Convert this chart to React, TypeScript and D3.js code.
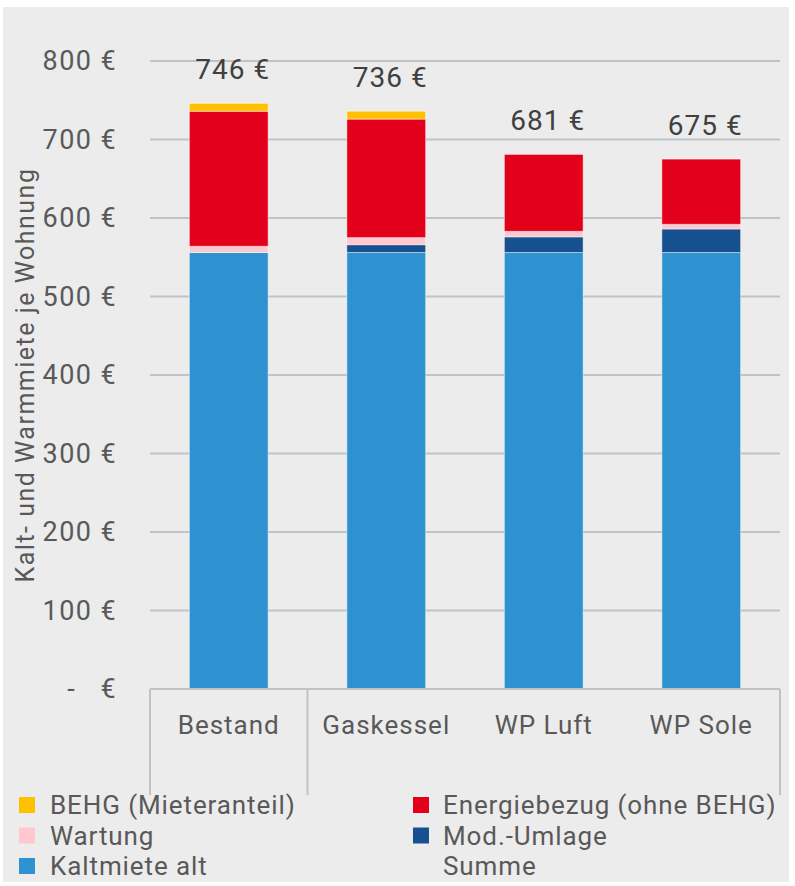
import React from 'react';
import * as d3 from 'd3';

const categories = ['Bestand', 'Gaskessel', 'WP Luft', 'WP Sole'];
const kaltmieteAlt = [556, 556, 556, 556];
const modUmlage = [0, 10, 20, 30];
const wartung = [8, 9, 7, 6];
const energiebezug = [172, 151, 98, 83];
const behg = [10, 10, 0, 0];
const summe = [746, 736, 681, 675];
const yTicks = [0, 100, 200, 300, 400, 500, 600, 700, 800];

const seriesKeys = ['kalt', 'mod', 'wartung', 'energie', 'behg'];
const colors: Record<string, string> = {
  kalt: '#2e92d1',
  mod: '#16508f',
  wartung: '#ffc7ce',
  energie: '#e3001b',
  behg: '#ffc000',
};

const legendLeft = [
  { label: 'BEHG (Mieteranteil)', key: 'behg' },
  { label: 'Wartung', key: 'wartung' },
  { label: 'Kaltmiete alt', key: 'kalt' },
];
const legendRight = [
  { label: 'Energiebezug (ohne BEHG)', key: 'energie' },
  { label: 'Mod.-Umlage', key: 'mod' },
  { label: 'Summe', key: null },
];

const W = 795;
const H = 886;
const font = 'Roboto, sans-serif';

export default function App() {
  const rows = categories.map((c, i) => ({
    cat: c,
    kalt: kaltmieteAlt[i],
    mod: modUmlage[i],
    wartung: wartung[i],
    energie: energiebezug[i],
    behg: behg[i],
  }));
  const stacked = d3.stack<any>().keys(seriesKeys)(rows);

  const x = d3.scaleBand().domain(categories).range([150, 780]).paddingInner(0.5).paddingOuter(0.25);
  const y = d3.scaleLinear().domain([0, 800]).range([689, 61]);
  const step = x.step();

  // group borders of the two-level category axis
  const dividers = [150, 150 + step, 780];

  return (
    <svg width={W} height={H} style={{ position: 'absolute', left: 0, top: 0 }} fontFamily={font}>
      <rect x={0} y={0} width={W} height={H} fill="#ffffff" />
      <rect x={3} y={7} width={786} height={875} fill="#ececec" />

      {/* gridlines */}
      {yTicks.filter(t => t > 0).map(t => (
        <line key={t} x1={150} x2={780} y1={y(t)} y2={y(t)} stroke="#bfc3c5" strokeWidth={2} />
      ))}

      {/* bars */}
      {stacked.map(s => (
        <g key={s.key} fill={colors[s.key]}>
          {s.map((d, i) => (d[1] - d[0] > 0 ? (
            <rect
              key={i}
              x={x(categories[i])}
              y={y(d[1])}
              width={x.bandwidth()}
              height={y(d[0]) - y(d[1])}
              stroke="rgba(255,255,255,0.45)"
              strokeWidth={1}
            />
          ) : null))}
        </g>
      ))}

      {/* axis + category dividers */}
      <line x1={150} x2={780} y1={y(0)} y2={y(0)} stroke="#bfc3c5" strokeWidth={2} />
      {dividers.map((dx, i) => (
        <line key={i} x1={dx} x2={dx} y1={y(0)} y2={795} stroke="#bfc3c5" strokeWidth={2} />
      ))}

      {/* y tick labels */}
      {yTicks.map(t => (
        <text key={t} x={117} y={y(t)} textAnchor="end" dominantBaseline="central"
          fontSize={27} letterSpacing={1.4} fill="#595959" style={{ whiteSpace: 'pre' }}>
          {t === 0 ? '-   €' : `${t} €`}
        </text>
      ))}

      {/* y axis title */}
      <text transform={`translate(25,${(y(0) + y(800)) / 2}) rotate(-90)`} textAnchor="middle"
        dominantBaseline="central" fontSize={25} letterSpacing={1.5} fill="#595959">
        Kalt- und Warmmiete je Wohnung
      </text>

      {/* category labels */}
      {categories.map(c => (
        <text key={c} x={(x(c) ?? 0) + x.bandwidth() / 2} y={725} textAnchor="middle"
          dominantBaseline="central" fontSize={26} letterSpacing={1} fill="#595959">
          {c}
        </text>
      ))}

      {/* total labels */}
      {categories.map((c, i) => (
        <text key={c} x={(x(c) ?? 0) + x.bandwidth() / 2 + 4} y={y(summe[i]) - 34} textAnchor="middle"
          dominantBaseline="central" fontSize={28} letterSpacing={1} fill="#404040">
          {`${summe[i]} €`}
        </text>
      ))}

      {/* legend */}
      {legendLeft.map((l, i) => (
        <g key={l.label} transform={`translate(19,${805 + i * 30.5})`}>
          <rect x={0} y={-8} width={16} height={16} fill={colors[l.key]} />
          <text x={31} y={0} dominantBaseline="central" fontSize={26} letterSpacing={0.9} fill="#595959">{l.label}</text>
        </g>
      ))}
      {legendRight.map((l, i) => (
        <g key={l.label} transform={`translate(413,${805 + i * 30.5})`}>
          {l.key ? <rect x={0} y={-8} width={16} height={16} fill={colors[l.key]} /> : null}
          <text x={30} y={0} dominantBaseline="central" fontSize={26} letterSpacing={0.9} fill="#595959">{l.label}</text>
        </g>
      ))}
    </svg>
  );
}
